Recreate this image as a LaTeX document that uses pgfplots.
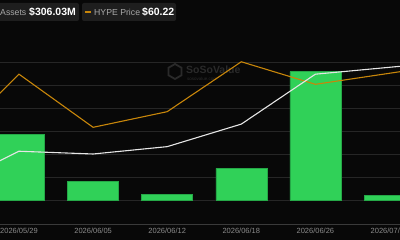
\documentclass[border=0pt]{standalone}
\usepackage{pgfplots}
\pgfplotsset{compat=1.18}
\usepackage{fontspec}
\setmainfont{Liberation Sans}
\definecolor{bg}{HTML}{080808}
\definecolor{gridc}{HTML}{262626}
\definecolor{axisc}{HTML}{3a3a3a}
\definecolor{barg}{HTML}{30D158}
\definecolor{bare}{HTML}{25A847}
\definecolor{orangec}{HTML}{C8860A}
\definecolor{whitec}{HTML}{E6E6E6}
\definecolor{labc}{HTML}{8C8C8C}
\definecolor{boxc}{HTML}{1E1E1E}
\definecolor{legtxt}{HTML}{A8A8A8}
\definecolor{wm}{HTML}{2A2A2A}
\begin{document}
\begin{tikzpicture}[x=1pt,y=1pt]
\useasboundingbox (0,0) rectangle (400,240);
\fill[bg] (0,0) rectangle (400,240);
% watermark
\draw[wm, line width=1.8pt, shift={(175,168.5)}] (90:7.5) -- (150:7.5) -- (210:7.5) -- (270:7.5) -- (330:7.5) -- (30:7.5) -- cycle;
\node[anchor=base west, inner sep=0, text=wm, font=\fontsize{10.5}{10.5}\selectfont\bfseries] at (186,166) {SoSoValue};
\node[anchor=base west, inner sep=0, text=wm, font=\fontsize{4.5}{4.5}\selectfont] at (187,159.5) {sosovalue.com};
\begin{axis}[
  at={(0pt,16pt)}, anchor=south west,
  scale only axis, width=400pt, height=184pt,
  xmin=-0.2564, xmax=5.1417, ymin=-1.0435, ymax=6.9565,
  axis line style={draw=none},
  ytick={0,1,2,3,4,5,6}, yticklabels={},
  ymajorgrids, grid style={gridc, line width=0.8pt},
  xtick={0,1,2,3,4,5},
  xticklabels={2026/05/29,2026/06/05,2026/06/12,2026/06/18,2026/06/26,2026/07/03},
  x tick label style={text=labc, font=\fontsize{7.5}{7.5}\selectfont, yshift=-1pt},
  major tick length=0pt,
  clip=true,
  after end axis/.code={\draw[axisc, line width=0.8pt] (rel axis cs:0,0) -- (rel axis cs:1,0);},
]
\addplot[ybar, bar width=0.688, fill=barg, draw=bare, line width=0.5pt] coordinates {
 (0,2.86) (1,0.80) (2,0.26) (3,1.38) (4,5.58) (5,0.19)
};
\addplot[orangec, line width=1.1pt, mark=none] coordinates {
 (-1,2.26) (0,5.47) (1,3.16) (2,3.84) (3,6.01) (4,5.03) (5,5.51) (6,5.99)
};
\addplot[whitec, line width=1.1pt, mark=none] coordinates {
 (-1,0.52) (0,2.12) (1,2.00) (2,2.32) (3,3.30) (4,5.47) (5,5.77) (6,6.07)
};
\end{axis}
% legend
\fill[boxc, rounded corners=2pt] (-5,219) rectangle (79,237);
\fill[boxc, rounded corners=2pt] (82,219) rectangle (176,237);
\node[anchor=base west, inner sep=0, text=legtxt, font=\fontsize{8.7}{8.7}\selectfont] at (0,224) {Assets};
\node[anchor=base west, inner sep=0, text=white, font=\fontsize{10.5}{10.5}\selectfont\bfseries] at (29,224) {\$306.03M};
\draw[orangec, line width=2.5pt] (85,228) -- (91,228);
\node[anchor=base west, inner sep=0, text=legtxt, font=\fontsize{8.7}{8.7}\selectfont] at (94,224) {HYPE Price};
\node[anchor=base west, inner sep=0, text=white, font=\fontsize{10.5}{10.5}\selectfont\bfseries] at (142,224) {\$60.22};
\end{tikzpicture}
\end{document}
